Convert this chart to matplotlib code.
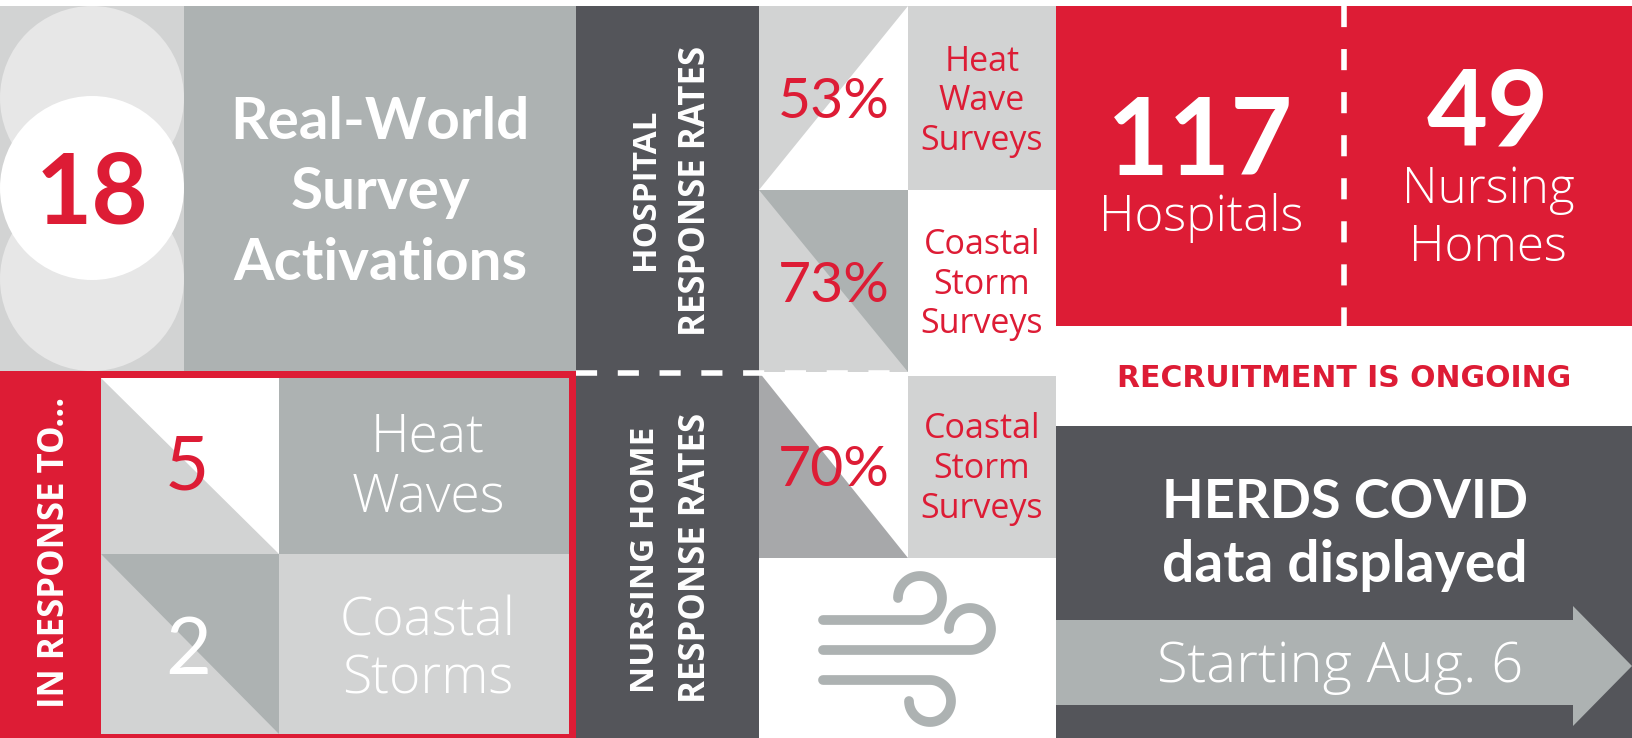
import numpy as np
import matplotlib
matplotlib.use('Agg')
import matplotlib.pyplot as plt
from matplotlib.patches import Rectangle, Polygon, Circle

plt.rcParams['font.family'] = ['Lato', 'Open Sans', 'DejaVu Sans']
OPEN = ['Open Sans', 'DejaVu Sans']

# values and labels
total_activations = 18
activation_label = ['Real-World', 'Survey', 'Activations']
response_counts = [5, 2]
response_labels = [['Heat', 'Waves'], ['Coastal', 'Storms']]
rate_values = [53, 73, 70]
rate_labels = [['Heat', 'Wave', 'Surveys'], ['Coastal', 'Storm', 'Surveys'], ['Coastal', 'Storm', 'Surveys']]
facility_counts = [117, 49]
hospital_label = 'Hospitals'
nursing_label = ['Nursing', 'Homes']

RED = '#DD1C35'
DARK = '#54555A'
GREY = '#ADB2B2'
LIGHT = '#D2D3D3'
PALE = '#E7E7E7'
TRI = '#A7A8AA'
WHITE = '#FFFFFF'

fig = plt.figure(figsize=(16.32, 7.38), dpi=100)
ax = fig.add_axes([0, 0, 1, 1])
ax.set_xlim(0, 1632)
ax.set_ylim(738, 0)
ax.axis('off')


def box(x0, y0, x1, y1, color, z=1):
    ax.add_patch(Rectangle((x0, y0), x1 - x0, y1 - y0, fc=color, ec='none', zorder=z))


def tri(pts, color, z=2):
    ax.add_patch(Polygon(pts, closed=True, fc=color, ec='none', zorder=z))


def txt(x, y, s, size, color=WHITE, weight='normal', family=None):
    # x is the centre, y the baseline, size in points
    ax.text(x, y, s, fontsize=size, color=color, fontweight=weight, ha='center',
            va='baseline', family=family, zorder=5)


def vtxt(x, y, s, size=25):
    # x is the baseline, y the start of the text
    ax.text(x, y, s, fontsize=size, color=WHITE, fontweight='bold', family=OPEN, rotation=90,
            ha='left', va='baseline', rotation_mode='anchor', zorder=5)


# top left
box(0, 6, 184, 371, LIGHT)
box(184, 6, 576, 371, GREY)
ax.add_patch(Circle((92, 98), 92, fc=PALE, ec='none', zorder=2))
ax.add_patch(Circle((92, 279), 92, fc=PALE, ec='none', zorder=2))
ax.add_patch(Circle((92, 188), 92, fc=WHITE, ec='none', zorder=3))
txt(92, 223, str(total_activations), 70, RED, 'bold')
for yy, s in zip([139, 209, 280], activation_label):
    txt(380, yy, s, 42, WHITE, 'bold')

# bottom left with the red frame
box(0, 371, 576, 738, RED)
box(101, 378, 279, 554, LIGHT, 2)
tri([(101, 378), (279, 378), (279, 554)], WHITE, 3)
box(101, 554, 279, 734, LIGHT, 2)
tri([(101, 554), (279, 554), (279, 734)], GREY, 3)
box(279, 378, 569, 554, GREY, 2)
box(279, 554, 569, 734, LIGHT, 2)
vtxt(64, 708, 'IN RESPONSE TO...')
txt(187, 490, str(response_counts[0]), 55, RED)
txt(188, 674, str(response_counts[1]), 57, WHITE)
for row, ys in enumerate([[452, 511], [636, 694]]):
    for yy, s in zip(ys, response_labels[row]):
        txt(428, yy, s, 38.5, WHITE, 'light', OPEN)

# dark column
box(576, 6, 759, 738, DARK)
vtxt(654, 270, 'HOSPITAL', 24)
vtxt(705, 336, 'RESPONSE RATES')
vtxt(654, 693, 'NURSING HOME', 24)
vtxt(705, 703, 'RESPONSE RATES')

# triangles and survey labels
box(759, 6, 908, 190, LIGHT)
tri([(908, 6), (908, 190), (759, 190)], WHITE)
box(759, 190, 908, 372, LIGHT)
tri([(759, 190), (908, 190), (908, 372)], GREY)
tri([(759, 372), (759, 558), (908, 558)], TRI)
box(908, 6, 1056, 190, LIGHT)
box(908, 376, 1056, 558, LIGHT)
for yy, v in zip([118, 302, 486], rate_values):
    txt(834, yy, '%d%%' % v, 41, RED)
for ys, lines in zip([[71, 110, 150], [254, 294, 333], [438, 478, 518]], rate_labels):
    for yy, s in zip(ys, lines):
        txt(982, yy, s, 24.5, RED, 'normal', OPEN)

# wind icon
t = np.linspace(0, 1, 60)
for y0, cx, cy, r, a0, a1 in [(620, 920, 598, 22, 90, -180),
                              (650, 970, 629, 21, 90, -180),
                              (680, 930, 701, 21, -90, 180)]:
    ang = np.radians(a0 + (a1 - a0) * t)
    xs = np.r_[823, cx + r * np.cos(ang)]
    ys = np.r_[y0, cy + r * np.sin(ang)]
    ax.plot(xs, ys, color=GREY, lw=7, solid_capstyle='round', solid_joinstyle='round', zorder=4)

# right side
box(1056, 6, 1632, 326, RED)
txt(1200, 175, str(facility_counts[0]), 77, WHITE, 'bold')
txt(1201, 231, hospital_label, 35.5, WHITE, 'light', OPEN)
txt(1488, 146, str(facility_counts[1]), 76, WHITE, 'bold')
txt(1488, 203, nursing_label[0], 35.5, WHITE, 'light', OPEN)
txt(1488, 261, nursing_label[1], 35.5, WHITE, 'light', OPEN)
ax.plot([1344, 1344], [6, 326], color=WHITE, lw=4, dashes=(3.8, 3.95), dash_capstyle='butt', zorder=4)
txt(1344, 387, 'RECRUITMENT IS ONGOING', 21.5, RED, 'bold', ['DejaVu Sans'])
box(1056, 426, 1632, 738, DARK)
txt(1345, 518, 'HERDS COVID', 39, WHITE, 'bold')
txt(1345, 582, 'data displayed', 41, WHITE, 'bold')
tri([(1056, 620), (1573, 620), (1573, 606), (1632, 666), (1573, 726), (1573, 705), (1056, 705)], GREY)
txt(1340, 682, 'Starting Aug. 6', 40.5, WHITE, 'light', OPEN)

# dashed divider between hospitals and nursing homes
ax.plot([576, 1056], [373, 373], color=WHITE, lw=4, dashes=(3.8, 3.72), dash_capstyle='butt', zorder=4)

fig.savefig('out.png', dpi=100)
